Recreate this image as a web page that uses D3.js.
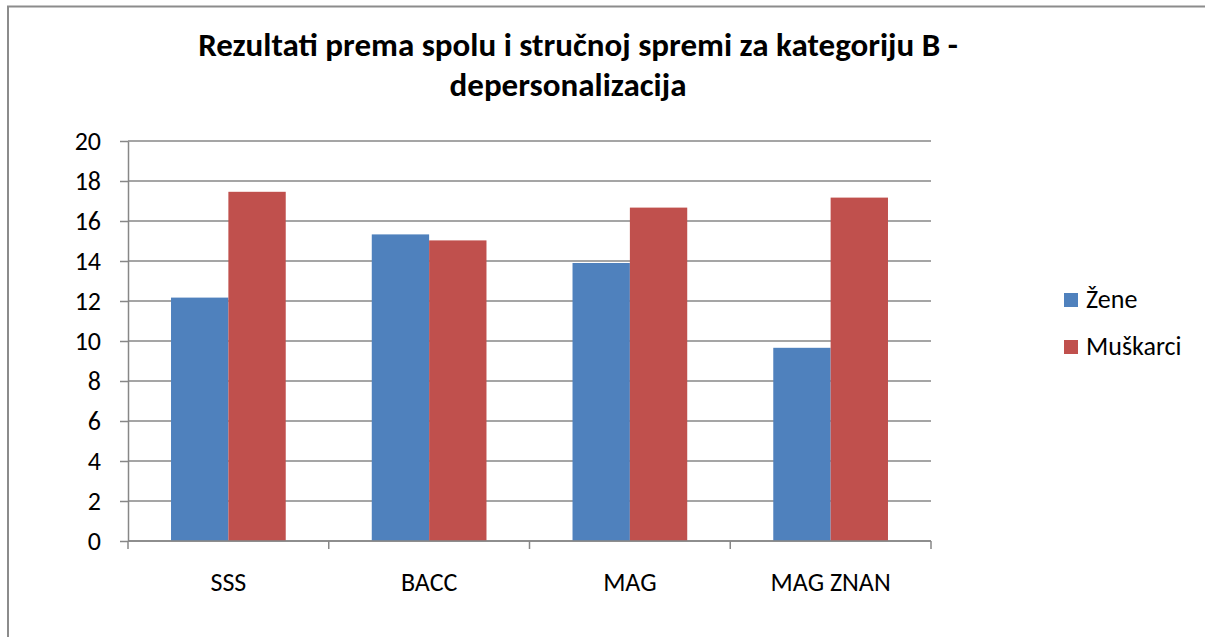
<!DOCTYPE html>
<html>
<head>
<meta charset="utf-8">
<script src="https://cdn.jsdelivr.net/npm/d3@7"></script>
<style>
  body { margin: 0; background: #fff; }
  svg text { font-family: Carlito, Calibri, "Liberation Sans", Arial, sans-serif; fill: #000; }
</style>
</head>
<body>
<svg id="chart"></svg>
<script>
// data
var categories = ["SSS", "BACC", "MAG", "MAG ZNAN"];
var seriesNames = ["Žene", "Muškarci"];
var zene = [12.17, 15.33, 13.9, 9.66];
var muskarci = [17.46, 15.03, 16.67, 17.17];
var yTicks = [0, 2, 4, 6, 8, 10, 12, 14, 16, 18, 20];
var colors = ["#4F81BD", "#C0504D"];

var W = 1205, H = 637;
var margin = {top: 141, right: 274, bottom: 96, left: 128};
var width = W - margin.left - margin.right;
var height = H - margin.top - margin.bottom;
var fs = 26;

var svg = d3.select("#chart").attr("width", W).attr("height", H);

// outer frame
svg.append("rect").attr("x", 8).attr("y", 6.5).attr("width", W + 20).attr("height", H + 20)
  .attr("fill", "none").attr("stroke", "#8c8c8c").attr("stroke-width", 2);

var g = svg.append("g").attr("transform", "translate(" + margin.left + "," + margin.top + ")");

var yScale = d3.scaleLinear().domain([0, 20]).range([height, 0]);
// Excel gap width 150%: bar = w, gap = 1.5w
var band = width / categories.length;
var barW = band / 3.5;
var x1 = d3.scaleBand().domain(seriesNames).range([0, 2 * barW]);

var rows = categories.map(function(c, i) { return {cat: c, values: [zene[i], muskarci[i]]}; });

// gridlines
g.append("g").selectAll("line").data(yTicks).join("line")
  .attr("x1", 0).attr("x2", width)
  .attr("y1", d => yScale(d)).attr("y2", d => yScale(d))
  .attr("stroke", "#878787").attr("stroke-width", 1.3);

// bars
g.append("g").selectAll("g").data(rows).join("g")
  .attr("transform", (d, i) => "translate(" + (i * band + 0.75 * barW) + ",0)")
  .selectAll("rect")
  .data(d => d.values.map((v, k) => ({key: seriesNames[k], value: v, k: k})))
  .join("rect")
  .attr("x", d => x1(d.key))
  .attr("width", x1.bandwidth())
  .attr("y", d => yScale(d.value))
  .attr("height", d => yScale(0) - yScale(d.value))
  .attr("fill", d => colors[d.k]);

// y axis
var yAxis = g.append("g")
  .call(d3.axisLeft(yScale).tickValues(yTicks).tickSize(8).tickPadding(19).tickSizeOuter(0));
yAxis.selectAll("path, line").attr("stroke", "#878787").attr("stroke-width", 1.5);
yAxis.selectAll("text").attr("font-size", fs);

// x axis
var xEdges = d3.range(categories.length + 1).map(i => i * band);
var xAxis = g.append("g").attr("transform", "translate(0," + height + ")");
xAxis.append("line").attr("x1", 0).attr("x2", width).attr("stroke", "#878787").attr("stroke-width", 1.5);
xAxis.selectAll(".tk").data(xEdges).join("line").attr("class", "tk")
  .attr("x1", d => d).attr("x2", d => d).attr("y1", 0).attr("y2", 8)
  .attr("stroke", "#878787").attr("stroke-width", 1.5);
xAxis.selectAll("text").data(categories).join("text")
  .attr("x", (d, i) => i * band + band / 2).attr("y", 50)
  .attr("text-anchor", "middle").attr("font-size", fs).text(d => d);

// title
var title = svg.append("text").attr("text-anchor", "middle").attr("font-weight", "bold").attr("font-size", 24);
title.append("tspan").attr("x", 578).attr("y", 56).text("Rezultati prema spolu i stručnoj spremi za kategoriju B -");
title.append("tspan").attr("x", 568).attr("y", 96).text("depersonalizacija");
var tl = title.select("tspan").node().getComputedTextLength();
if (tl > 0) title.attr("font-size", 24 * 760 / tl);

// legend
var legend = svg.append("g").attr("transform", "translate(1064,293)");
var li = legend.selectAll("g").data(seriesNames).join("g")
  .attr("transform", (d, i) => "translate(0," + (i * 47) + ")");
li.append("rect").attr("width", 14).attr("height", 14).attr("fill", (d, i) => colors[i]);
li.append("text").attr("x", 22).attr("y", 15).attr("font-size", fs).text(d => d);
</script>
</body>
</html>
